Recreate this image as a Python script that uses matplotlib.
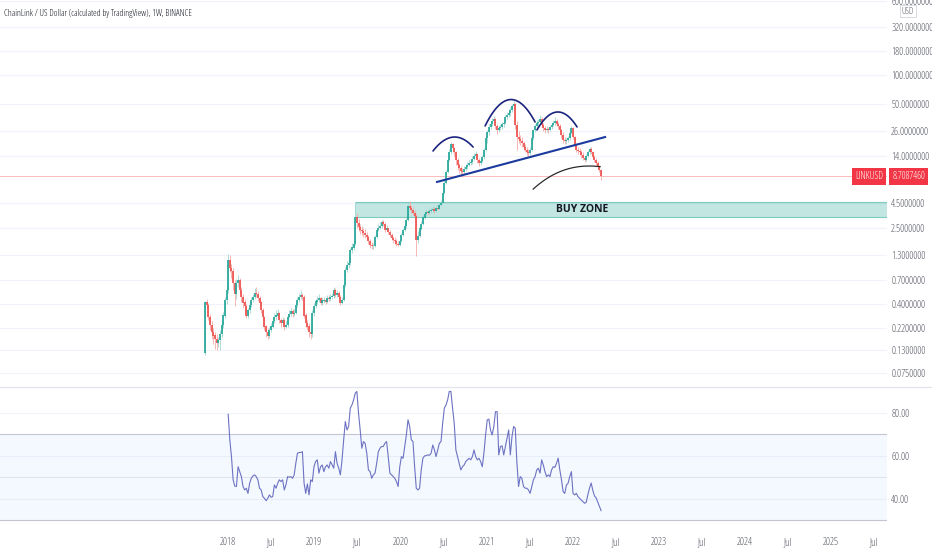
import numpy as np
import pandas as pd
import matplotlib
matplotlib.use("Agg")
import matplotlib.pyplot as plt
import matplotlib.dates as mdates
import matplotlib.transforms as mtransforms
from matplotlib.lines import Line2D
from matplotlib.patches import Rectangle

plt.rcParams['font.family'] = ['Open Sans', 'DejaVu Sans']
plt.rcParams['font.stretch'] = 'condensed'

# ---- weekly LINKUSD candles ----
start_week = "2017-09-25"
first_open = 0.12
closes = [
    0.41, 0.39, 0.29, 0.24, 0.20, 0.185, 0.17, 0.155, 0.165, 0.19,      # 0
    0.24, 0.30, 0.44, 0.56, 1.15, 0.95, 0.87, 0.66, 0.50, 0.66,         # 10
    0.71, 0.56, 0.47, 0.41, 0.38, 0.30, 0.34, 0.39, 0.44, 0.47,         # 20
    0.52, 0.50, 0.46, 0.41, 0.34, 0.29, 0.23, 0.20, 0.185, 0.21,        # 30
    0.23, 0.26, 0.29, 0.30, 0.32, 0.27, 0.25, 0.27, 0.23, 0.24,         # 40
    0.29, 0.31, 0.33, 0.31, 0.32, 0.39, 0.44, 0.47, 0.49, 0.47,         # 50
    0.30, 0.25, 0.23, 0.20, 0.19, 0.32, 0.38, 0.42, 0.44, 0.46,         # 60
    0.41, 0.43, 0.44, 0.42, 0.46, 0.45, 0.47, 0.48, 0.556, 0.49,        # 70
    0.52, 0.47, 0.41, 0.44, 0.63, 0.90, 1.02, 1.07, 1.46, 1.55,         # 80
    1.70, 3.20, 2.80, 2.55, 2.37, 2.30, 2.20, 2.10, 2.00, 1.80,         # 90
    1.65, 1.60, 1.62, 2.00, 2.37, 2.50, 2.60, 2.85, 2.75, 2.37,         # 100
    2.45, 2.25, 2.10, 1.95, 1.86, 1.80, 1.70, 1.65, 1.82, 2.10,         # 110
    2.37, 2.60, 3.00, 4.25, 4.00, 3.84, 3.55, 3.35, 1.86, 2.05,         # 120
    2.45, 2.75, 3.20, 3.45, 3.65, 3.55, 3.75, 3.84, 3.95, 3.75,         # 130
    4.05, 3.95, 4.33, 4.55, 5.80, 7.40, 9.60, 12.9, 15.5, 19.0,         # 140
    17.0, 15.5, 12.9, 11.4, 10.6, 9.8, 9.6, 10.3, 10.8, 11.4,           # 150
    12.0, 12.3, 13.2, 14.2, 14.9, 12.9, 12.0, 12.6, 13.8, 16.4,         # 160
    21.9, 25.3, 28.6, 30.7, 33.0, 34.7, 29.4, 26.6, 27.9, 28.6,         # 170
    30.7, 31.4, 36.3, 38.2, 40.1, 43.1, 47.5, 49.7, 30.0, 22.4,         # 180
    21.4, 20.4, 19.4, 17.6, 16.4, 15.5, 15.2, 16.4, 21.9, 26.6,         # 190
    29.4, 31.4, 32.2, 34.7, 30.0, 27.9, 26.6, 27.2, 26.6, 28.6,         # 200
    30.0, 31.4, 33.0, 30.7, 29.4, 26.6, 23.5, 20.9, 20.4, 20.9,         # 210
    21.9, 24.7, 27.9, 22.4, 18.5, 16.4, 16.0, 15.5, 14.5, 13.5,         # 220
    12.9, 14.2, 15.5, 16.8, 15.5, 13.8, 12.9, 12.0, 10.8, 10.1,         # 230
    8.7087460,                                                          # 240
]
highs = [
    0.43, 0.45, 0.41, 0.31, 0.26, 0.22, 0.20, 0.19, 0.18, 0.21,
    0.26, 0.33, 0.47, 0.62, 1.33, 1.30, 1.05, 0.95, 0.70, 0.72,
    0.80, 0.74, 0.60, 0.50, 0.45, 0.40, 0.36, 0.42, 0.47, 0.51,
    0.58, 0.60, 0.54, 0.48, 0.43, 0.36, 0.30, 0.24, 0.22, 0.23,
    0.25, 0.28, 0.32, 0.34, 0.35, 0.33, 0.28, 0.29, 0.28, 0.26,
    0.31, 0.34, 0.36, 0.35, 0.35, 0.41, 0.47, 0.52, 0.55, 0.52,
    0.49, 0.32, 0.27, 0.25, 0.22, 0.34, 0.41, 0.45, 0.48, 0.50,
    0.47, 0.46, 0.47, 0.46, 0.49, 0.49, 0.50, 0.52, 0.60, 0.58,
    0.55, 0.54, 0.49, 0.47, 0.66, 0.98, 1.12, 1.20, 1.55, 1.75,
    1.90, 4.60, 3.60, 3.10, 2.75, 2.60, 2.50, 2.40, 2.25, 2.10,
    1.90, 1.78, 1.75, 2.10, 2.50, 2.75, 2.85, 3.05, 3.00, 2.85,
    2.65, 2.50, 2.35, 2.20, 2.05, 1.98, 1.90, 1.80, 1.90, 2.20,
    2.50, 2.80, 3.20, 4.60, 4.80, 4.30, 4.10, 3.80, 3.50, 2.30,
    2.60, 2.95, 3.40, 3.75, 3.90, 3.85, 4.00, 4.10, 4.20, 4.10,
    4.30, 4.30, 4.55, 4.90, 6.20, 8.20, 10.2, 13.5, 16.8, 20.1,
    19.5, 17.8, 16.0, 13.5, 12.0, 11.2, 10.5, 11.0, 11.6, 12.2,
    13.0, 13.2, 14.0, 15.2, 15.8, 15.3, 13.5, 13.4, 14.5, 17.2,
    23.5, 26.5, 30.5, 33.0, 35.5, 36.8, 35.5, 31.0, 29.8, 30.5,
    32.5, 34.0, 38.0, 41.0, 44.0, 46.0, 50.0, 53.5, 51.0, 33.0,
    26.0, 23.5, 22.5, 20.5, 19.0, 17.8, 16.8, 17.5, 23.0, 27.5,
    31.0, 33.5, 35.0, 38.0, 36.0, 31.5, 29.5, 29.0, 28.8, 30.0,
    32.0, 33.5, 36.0, 34.5, 32.5, 30.5, 27.5, 25.0, 22.5, 22.0,
    23.2, 25.8, 29.5, 28.5, 23.0, 19.5, 17.5, 17.0, 16.3, 15.5,
    14.3, 15.0, 16.2, 17.6, 17.4, 16.0, 14.5, 13.5, 12.5, 11.4,
    10.4,
]
lows = [
    0.115, 0.35, 0.27, 0.21, 0.17, 0.15, 0.135, 0.13, 0.14, 0.13,
    0.18, 0.22, 0.28, 0.40, 0.52, 0.85, 0.75, 0.55, 0.38, 0.45,
    0.60, 0.52, 0.42, 0.36, 0.33, 0.28, 0.28, 0.32, 0.37, 0.42,
    0.45, 0.47, 0.43, 0.38, 0.32, 0.27, 0.21, 0.18, 0.17, 0.175,
    0.20, 0.22, 0.25, 0.27, 0.28, 0.25, 0.23, 0.24, 0.21, 0.22,
    0.23, 0.28, 0.30, 0.29, 0.30, 0.31, 0.37, 0.42, 0.45, 0.44,
    0.28, 0.23, 0.21, 0.18, 0.17, 0.18, 0.30, 0.36, 0.40, 0.42,
    0.39, 0.39, 0.41, 0.40, 0.41, 0.43, 0.43, 0.45, 0.46, 0.47,
    0.47, 0.45, 0.39, 0.40, 0.43, 0.60, 0.85, 0.95, 1.02, 1.35,
    1.45, 1.65, 2.50, 2.30, 2.15, 2.10, 2.00, 1.95, 1.85, 1.70,
    1.55, 1.50, 1.50, 1.58, 1.95, 2.30, 2.40, 2.50, 2.60, 2.25,
    2.30, 2.15, 2.00, 1.85, 1.75, 1.70, 1.62, 1.60, 1.60, 1.78,
    2.05, 2.30, 2.50, 2.95, 3.80, 3.60, 3.40, 3.10, 1.27, 1.75,
    2.00, 2.35, 2.70, 3.10, 3.35, 3.40, 3.45, 3.60, 3.70, 3.60,
    3.70, 3.80, 3.90, 4.20, 4.50, 5.60, 7.20, 9.30, 12.5, 14.8,
    15.5, 14.0, 11.5, 10.0, 9.5, 9.0, 8.6, 9.2, 9.9, 10.4,
    11.0, 11.5, 11.8, 12.8, 13.6, 12.0, 11.2, 11.5, 12.2, 13.2,
    15.8, 19.5, 23.5, 27.0, 29.5, 31.0, 27.5, 24.0, 25.0, 26.5,
    27.5, 28.5, 30.5, 34.5, 36.0, 37.5, 41.0, 44.0, 27.0, 16.4,
    19.5, 18.5, 17.8, 16.5, 15.5, 14.5, 13.8, 14.6, 16.0, 21.0,
    25.5, 28.0, 29.5, 31.0, 28.5, 26.0, 24.5, 25.0, 24.8, 25.8,
    27.5, 29.0, 30.0, 29.0, 27.5, 25.0, 22.0, 19.5, 18.8, 19.0,
    20.0, 21.0, 24.0, 21.5, 17.0, 15.5, 15.0, 14.5, 13.5, 12.8,
    12.2, 12.5, 13.8, 15.0, 14.8, 13.2, 12.3, 11.5, 10.3, 9.6,
    7.9,
]

# RSI(14), starts 14 weeks after the first candle
rsi = [
    79.4, 67.5, 59.7, 48.9, 46.0, 45.8, 55.0, 52.7, 50.4, 45.8,
    44.2, 45.0, 42.6, 47.3, 49.6, 50.7, 51.2, 50.4, 48.9, 45.0,
    44.2, 41.1, 40.3, 39.2, 40.3, 41.9, 40.8, 41.1, 46.5, 45.0,
    47.3, 48.9, 48.1, 48.9, 44.2, 46.5, 50.4, 50.1, 50.4, 49.6,
    51.2, 56.6, 61.3, 61.6, 61.6, 62.0, 47.3, 42.6, 47.0, 41.9,
    48.9, 48.1, 55.0, 57.4, 58.2, 52.0, 55.0, 55.8, 52.7, 55.0,
    55.8, 54.3, 57.4, 55.8, 54.3, 62.0, 56.6, 54.3, 51.2, 58.2,
    67.5, 76.0, 72.1, 73.7, 82.2, 83.7, 86.0, 89.2, 90.0, 79.9,
    72.1, 63.6, 66.7, 65.9, 61.3, 53.5, 52.7, 49.6, 51.2, 52.0,
    56.6, 62.0, 63.6, 64.4, 64.4, 65.9, 66.7, 59.7, 52.0, 51.2,
    50.4, 49.6, 48.1, 45.8, 55.0, 59.7, 58.9, 64.4, 69.8, 76.8,
    73.7, 67.5, 66.7, 55.0, 45.0, 44.2, 45.0, 53.5, 58.9, 60.0,
    60.2, 60.5, 60.3, 61.3, 65.1, 62.8, 59.7, 62.8, 65.9, 66.7,
    75.2, 82.2, 83.7, 86.0, 90.0, 90.0, 82.2, 75.2, 62.8, 59.7,
    56.6, 53.5, 55.0, 55.8, 57.4, 58.2, 58.9, 58.2, 59.7, 62.8,
    59.7, 58.2, 58.9, 57.4, 55.0, 61.3, 69.8, 76.8, 77.1, 72.0,
    69.8, 73.7, 80.6, 80.6, 60.5, 64.4, 64.7, 60.5, 64.4, 68.2,
    72.1, 60.5, 69.0, 73.7, 72.9, 56.6, 45.8, 50.4, 49.6, 45.8,
    45.0, 45.0, 44.2, 42.6, 45.8, 48.9, 50.4, 53.5, 54.3, 52.0,
    58.2, 55.8, 52.7, 50.4, 51.2, 50.4, 53.5, 55.0, 54.7, 56.6,
    59.0, 53.5, 48.9, 43.4, 42.6, 46.5, 47.3, 50.4, 52.7, 42.6,
    41.9, 42.6, 41.1, 40.3, 39.5, 38.8, 38.0, 38.5, 42.0, 45.0,
    47.4, 44.0, 41.4, 40.5, 38.5, 36.5, 34.6,
]

price_ticks = [0.075, 0.13, 0.22, 0.4, 0.7, 1.3, 2.5, 4.5, 14, 26, 50, 100, 180, 320, 600]
rsi_ticks = [40, 60, 80]
last_price = 8.7087460
buy_zone_low, buy_zone_high = 3.25, 4.67
buy_zone_start = "2019-06-24"

# hand drawn lines on the chart: (date, price)
left_shoulder = [("2020-05-19", 16.0), ("2020-08-21", 22.4), ("2020-11-05", 17.6)]
head = [("2020-12-26", 29.3), ("2021-04-02", 54.9), ("2021-07-26", 32.2)]
right_shoulder = [("2021-08-03", 26.6), ("2021-10-27", 41.0), ("2022-01-20", 28.6)]
neckline = [("2020-06-05", 7.57), ("2022-05-19", 22.4)]
ma_curve = [("2021-07-18", 6.38), ("2021-09-19", 8.31), ("2021-11-22", 10.1),
            ("2022-02-02", 10.9), ("2022-04-15", 11.1), ("2022-04-28", 10.9)]

x_left, x_right = "2015-05-09", "2025-08-27"

GREEN = "#26a69a"
RED = "#ef5350"
TXT = "#131722"
AXT = "#50535e"

dates = pd.date_range(start_week, periods=len(closes), freq="7D")
opens = [first_open] + closes[:-1]
up = [c >= o for o, c in zip(opens, closes)]
body_lo = [min(o, c) for o, c in zip(opens, closes)]
body_hi = [max(o, c) * 1.004 for o, c in zip(opens, closes)]

fig = plt.figure(figsize=(9.32, 5.5), dpi=100)
W, H = 932, 550
ax1 = fig.add_axes([0, 164 / H, 887 / W, 386 / H])
ax2 = fig.add_axes([0, 22 / H, 887 / W, 140 / H], sharex=ax1)

# ----- price pane -----
ax1.set_yscale("log")
ax1.set_ylim(0.0547, 614)
ax1.set_xlim(pd.Timestamp(x_left), pd.Timestamp(x_right))
for t in price_ticks:
    ax1.axhline(t, color="#f0f3fa", lw=0.8, zorder=0)

wick_cols = ["#9fd6cf" if u else "#f5a9a7" for u in up]
body_cols = [GREEN if u else RED for u in up]
ax1.vlines(dates, lows, highs, colors=wick_cols, lw=0.6, zorder=2)
ax1.vlines(dates, body_lo, body_hi, colors=body_cols, lw=1.25, zorder=3)

# buy zone
x0 = mdates.date2num(pd.Timestamp(buy_zone_start))
x1 = mdates.date2num(pd.Timestamp(x_right))
ax1.add_patch(Rectangle((x0, buy_zone_low), x1 - x0, buy_zone_high - buy_zone_low,
                        facecolor=GREEN, alpha=0.28, edgecolor="none", zorder=1))
ax1.hlines([buy_zone_low, buy_zone_high], x0, x1, colors="#7ccbbf", lw=0.8, zorder=1)
ax1.text(pd.Timestamp("2022-02-10"), np.sqrt(buy_zone_low * buy_zone_high), "BUY ZONE",
         ha="center", va="center", fontsize=7.5, fontweight="bold", color=TXT, zorder=5)

# last price line + labels
ax1.axhline(last_price, color=RED, lw=0.6, alpha=0.45, zorder=1)
blend = mtransforms.blended_transform_factory(ax1.transAxes, ax1.transData)
ax1.text(1.006, last_price, f"{last_price:.7f}", transform=blend, ha="left", va="center",
         fontsize=7, color="white",
         bbox=dict(boxstyle="square,pad=0.3", facecolor="#f23645", edgecolor="none"))
ax1.text(0.9955, last_price, "LINKUSD", transform=blend, ha="right", va="center",
         fontsize=7, color="white",
         bbox=dict(boxstyle="square,pad=0.3", facecolor="#f23645", edgecolor="none"))


def arc(points, n=80):
    xs = mdates.date2num([pd.Timestamp(d) for d, _ in points])
    ys = np.log10([p for _, p in points])
    coef = np.polyfit(xs, ys, 2)
    xx = np.linspace(xs[0], xs[-1], n)
    return mdates.num2date(xx), 10 ** np.polyval(coef, xx)


for shape in (left_shoulder, head, right_shoulder):
    xx, yy = arc(shape)
    ax1.plot(xx, yy, color="#1a237e", lw=1.2, zorder=6, solid_capstyle="round")

ax1.plot([pd.Timestamp(d) for d, _ in neckline], [p for _, p in neckline],
         color="#1a3a9e", lw=1.5, zorder=6)

mx = mdates.date2num([pd.Timestamp(d) for d, _ in ma_curve])
my = np.log10([p for _, p in ma_curve])
mc = np.polyfit(mx, my, 3)
mxx = np.linspace(mx[0], mx[-1], 80)
ax1.plot(mdates.num2date(mxx), 10 ** np.polyval(mc, mxx), color="#2a2a2a", lw=0.9, zorder=6)

ax1.yaxis.tick_right()
ax1.set_yticks(price_ticks)
ax1.set_yticklabels([f"{t:.7f}" for t in price_ticks])
ax1.yaxis.set_minor_locator(matplotlib.ticker.NullLocator())
ax1.tick_params(axis="y", length=0, pad=3, labelsize=7.3, labelcolor=AXT)
ax1.tick_params(axis="x", bottom=False, labelbottom=False)
for s in ax1.spines.values():
    s.set_visible(False)

ax1.text(0.004, 1 - 13 / 386, "ChainLink / US Dollar (calculated by TradingView), 1W, BINANCE",
         transform=ax1.transAxes, ha="left", va="center", fontsize=6.6, color=TXT)

fig.text(908 / W, 1 - 11 / H, "USD", ha="center", va="center", fontsize=6.5, color=AXT,
         bbox=dict(boxstyle="square,pad=0.2", facecolor="white", edgecolor="#d1d4dc", lw=0.6))

# pane separator
fig.add_artist(Line2D([0, 1], [1 - 387 / H] * 2, color="#e0e3eb", lw=0.8))

# ----- RSI pane -----
ax2.set_ylim(26.5, 91.6)
for t in rsi_ticks:
    ax2.axhline(t, color="#f0f3fa", lw=0.8, zorder=0)
ax2.axhspan(30, 70, color="#2196f3", alpha=0.05, lw=0, zorder=0)
ax2.axhline(70, color="#c3c6d2", lw=0.8, zorder=1)
ax2.axhline(30, color="#c3c6d2", lw=0.8, zorder=1)
ax2.axhline(50, color="#dfe2ea", lw=0.7, zorder=1)
ax2.plot(dates[len(closes) - len(rsi):], rsi, color="#6d72c3", lw=0.8, zorder=3)

ax2.yaxis.tick_right()
ax2.set_yticks(rsi_ticks)
ax2.set_yticklabels([f"{t:.2f}" for t in rsi_ticks])
ax2.tick_params(axis="y", length=0, pad=3, labelsize=7.3, labelcolor=AXT)

xt = []
xl = []
for yr in range(2018, 2026):
    xt += [pd.Timestamp(f"{yr}-01-01"), pd.Timestamp(f"{yr}-07-01")]
    xl += [str(yr), "Jul"]
ax2.set_xticks(xt)
ax2.set_xticklabels(xl)
ax2.tick_params(axis="x", length=0, pad=6.5, labelsize=7.3, labelcolor=AXT)
ax2.set_xlim(pd.Timestamp(x_left), pd.Timestamp(x_right))
for s in ax2.spines.values():
    s.set_visible(False)

fig.savefig("out.png", dpi=100, facecolor="white")
